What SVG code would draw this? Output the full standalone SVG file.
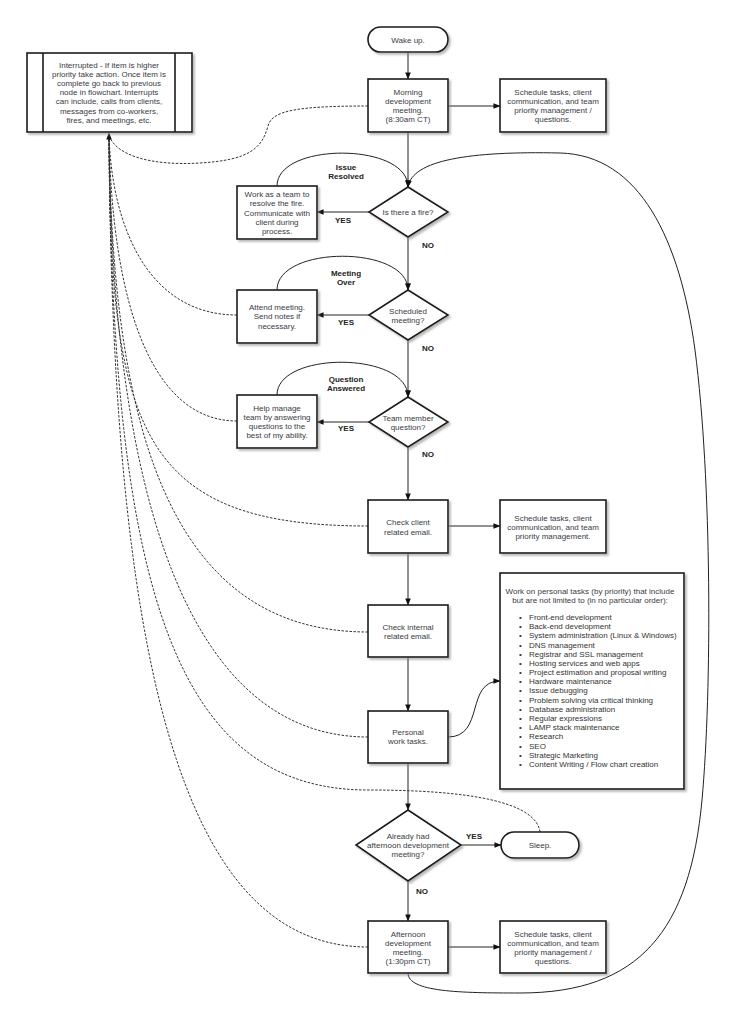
<svg xmlns="http://www.w3.org/2000/svg" width="741" height="1024" viewBox="0 0 741 1024">
<defs>
<filter id="sh" x="-10%" y="-10%" width="130%" height="130%">
<feDropShadow dx="2" dy="2" stdDeviation="1" flood-color="#888" flood-opacity="0.6"/>
</filter>
<marker id="ah" viewBox="0 0 8 8" refX="7.5" refY="4" markerWidth="7" markerHeight="7" markerUnits="userSpaceOnUse" orient="auto">
<path d="M0,0.8 L8,4 L0,7.2 Z" fill="#111"/>
</marker>
</defs>
<style>
.n{fill:#fff;stroke:#1a1a1a;stroke-width:1.6;filter:url(#sh)}
.t{font-family:"Liberation Sans",Arial,sans-serif;font-size:8px;fill:#3a3a44;text-anchor:middle}
.l{font-family:"Liberation Sans",Arial,sans-serif;font-size:8px;font-weight:bold;fill:#222;text-anchor:middle}
.li{font-family:"Liberation Sans",Arial,sans-serif;font-size:8px;fill:#333}
.c{fill:none;stroke:#222;stroke-width:1}
.a{marker-end:url(#ah)}
.d{fill:none;stroke:#333;stroke-width:1;stroke-dasharray:2.5 1.5}
</style>
<rect width="741" height="1024" fill="#fff"/>

<g id="connectors">
<!-- main vertical flow -->
<path class="c a" d="M408 52 L408 79"/>
<path class="c a" d="M408 132 L408 187"/>
<path class="c a" d="M408 237 L408 290"/>
<path class="c a" d="M408 340 L408 397"/>
<path class="c a" d="M408 447 L408 500"/>
<path class="c a" d="M408 553 L408 605"/>
<path class="c a" d="M408 657 L408 711"/>
<path class="c a" d="M408 763 L408 810"/>
<path class="c a" d="M408 881 L408 921"/>
<!-- horizontal -->
<path class="c a" d="M448 106 L500 106"/>
<path class="c a" d="M369 212 L317 212"/>
<path class="c a" d="M369 315 L317 315"/>
<path class="c a" d="M369 422 L317 422"/>
<path class="c a" d="M448 526 L500 526"/>
<path class="c a" d="M448 737 C485 737 465 681 500 681"/>
<path class="c a" d="M461 845 L501 845"/>
<path class="c a" d="M448 947 L500 947"/>
<!-- return loops -->
<path class="c a" d="M277 186 C277 142 408 142 408 187"/>
<path class="c a" d="M277 290 C277 245 408 245 408 290"/>
<path class="c a" d="M277 395 C277 351 408 351 408 397"/>
<path class="c a" d="M408 973 C408 992 460 993 520 993 C640 993 690 930 702 800 C712 690 712 480 695 350 C680 240 640 155 560 153 C470 151 412 160 408 187"/>
<!-- interrupt dashed links -->
<path class="d" d="M368 106 C290 106 272 112 268 126 C262 148 250 160 200 163 C150 166 115 155 109 135"/>
<path class="d" d="M237 315 C150 315 112 230 109 135"/>
<path class="d" d="M237 421 C150 421 112 300 109 135"/>
<path class="d" d="M368 526 C140 526 110 430 109 135"/>
<path class="d" d="M368 632 C180 632 112 450 109 135"/>
<path class="d" d="M368 737 C190 737 112 500 109 135"/>
<path class="d" d="M540 832 C536 802 470 790 368 790 C180 790 112 600 109 135"/>
<path class="d a" d="M368 947 C200 947 112 720 109 133"/>
<!-- labels -->
<text class="l" x="346" y="170">Issue</text>
<text class="l" x="346" y="179">Resolved</text>
<text class="l" x="343" y="223">YES</text>
<text class="l" x="428" y="248">NO</text>
<text class="l" x="346" y="276">Meeting</text>
<text class="l" x="346" y="285">Over</text>
<text class="l" x="346" y="325">YES</text>
<text class="l" x="428" y="351">NO</text>
<text class="l" x="346" y="382">Question</text>
<text class="l" x="346" y="391">Answered</text>
<text class="l" x="346" y="431">YES</text>
<text class="l" x="428" y="457">NO</text>
<text class="l" x="474" y="839">YES</text>
<text class="l" x="422" y="894">NO</text>
</g>

<g id="interrupt">
<rect class="n" x="27" y="53" width="165" height="79"/>
<line x1="43" y1="53" x2="43" y2="132" stroke="#1a1a1a" stroke-width="1.6"/>
<line x1="175" y1="53" x2="175" y2="132" stroke="#1a1a1a" stroke-width="1.6"/>
<text class="t" x="109" y="68">Interrupted - If item is higher</text>
<text class="t" x="109" y="77">priority take action. Once item is</text>
<text class="t" x="109" y="86">complete go back to previous</text>
<text class="t" x="109" y="95">node in flowchart. Interrupts</text>
<text class="t" x="109" y="104">can include, calls from clients,</text>
<text class="t" x="109" y="114">messages from co-workers,</text>
<text class="t" x="109" y="123">fires, and meetings, etc.</text>
</g>

<g id="wake">
<rect class="n" x="368" y="27" width="80" height="25" rx="12.5"/>
<text class="t" x="408" y="43">Wake up.</text>
</g>

<g id="morning">
<rect class="n" x="368" y="79" width="80" height="53"/>
<text class="t" x="408" y="95">Morning</text>
<text class="t" x="408" y="104">development</text>
<text class="t" x="408" y="113">meeting.</text>
<text class="t" x="408" y="122">(8:30am CT)</text>
</g>

<g id="schedule1">
<rect class="n" x="500" y="79" width="106" height="53"/>
<text class="t" x="553" y="95">Schedule tasks, client</text>
<text class="t" x="553" y="104">communication, and team</text>
<text class="t" x="553" y="113">priority management /</text>
<text class="t" x="553" y="122">questions.</text>
</g>

<g id="fire">
<polygon class="n" points="408,187 448,212 408,237 369,212"/>
<text class="t" x="408" y="215">Is there a fire?</text>
</g>

<g id="work-fire">
<rect class="n" x="237" y="186" width="80" height="53"/>
<text class="t" x="277" y="197">Work as a team to</text>
<text class="t" x="277" y="206">resolve the fire.</text>
<text class="t" x="277" y="216">Communicate with</text>
<text class="t" x="277" y="225">client during</text>
<text class="t" x="277" y="234">process.</text>
</g>

<g id="meeting">
<polygon class="n" points="408,290 448,315 408,340 369,315"/>
<text class="t" x="408" y="314">Scheduled</text>
<text class="t" x="408" y="323">meeting?</text>
</g>

<g id="attend">
<rect class="n" x="237" y="290" width="80" height="53"/>
<text class="t" x="277" y="310">Attend meeting.</text>
<text class="t" x="277" y="319">Send notes if</text>
<text class="t" x="277" y="329">necessary.</text>
</g>

<g id="team">
<polygon class="n" points="408,397 448,422 408,447 369,422"/>
<text class="t" x="408" y="421">Team member</text>
<text class="t" x="408" y="430">question?</text>
</g>

<g id="help">
<rect class="n" x="237" y="395" width="80" height="53"/>
<text class="t" x="277" y="411">Help manage</text>
<text class="t" x="277" y="420">team by answering</text>
<text class="t" x="277" y="429">questions to the</text>
<text class="t" x="277" y="438">best of my ability.</text>
</g>

<g id="client-email">
<rect class="n" x="368" y="500" width="80" height="53"/>
<text class="t" x="408" y="525">Check client</text>
<text class="t" x="408" y="535">related email.</text>
</g>

<g id="schedule2">
<rect class="n" x="500" y="500" width="106" height="53"/>
<text class="t" x="553" y="521">Schedule tasks, client</text>
<text class="t" x="553" y="530">communication, and team</text>
<text class="t" x="553" y="539">priority management.</text>
</g>

<g id="internal-email">
<rect class="n" x="368" y="605" width="80" height="52"/>
<text class="t" x="408" y="630">Check internal</text>
<text class="t" x="408" y="639">related email.</text>
</g>

<g id="personal">
<rect class="n" x="368" y="711" width="80" height="52"/>
<text class="t" x="408" y="735">Personal</text>
<text class="t" x="408" y="744">work tasks.</text>
</g>

<g id="tasks">
<rect class="n" x="500" y="573" width="184" height="216"/>
<text class="t" x="590" y="594">Work on personal tasks (by priority) that include</text>
<text class="t" x="590" y="603">but are not limited to (in no particular order):</text>
<g class="li">
<text x="519" y="620">•</text><text x="529" y="620">Front-end development</text>
<text x="519" y="629">•</text><text x="529" y="629">Back-end development</text>
<text x="519" y="638">•</text><text x="529" y="638">System administration (Linux &amp; Windows)</text>
<text x="519" y="648">•</text><text x="529" y="648">DNS management</text>
<text x="519" y="657">•</text><text x="529" y="657">Registrar and SSL management</text>
<text x="519" y="666">•</text><text x="529" y="666">Hosting services and web apps</text>
<text x="519" y="675">•</text><text x="529" y="675">Project estimation and proposal writing</text>
<text x="519" y="684">•</text><text x="529" y="684">Hardware maintenance</text>
<text x="519" y="693">•</text><text x="529" y="693">Issue debugging</text>
<text x="519" y="703">•</text><text x="529" y="703">Problem solving via critical thinking</text>
<text x="519" y="712">•</text><text x="529" y="712">Database administration</text>
<text x="519" y="721">•</text><text x="529" y="721">Regular expressions</text>
<text x="519" y="730">•</text><text x="529" y="730">LAMP stack maintenance</text>
<text x="519" y="739">•</text><text x="529" y="739">Research</text>
<text x="519" y="749">•</text><text x="529" y="749">SEO</text>
<text x="519" y="758">•</text><text x="529" y="758">Strategic Marketing</text>
<text x="519" y="767">•</text><text x="529" y="767">Content Writing / Flow chart creation</text>
</g>
</g>

<g id="already">
<polygon class="n" points="408,810 461,845 408,881 356,845"/>
<text class="t" x="408" y="839">Already had</text>
<text class="t" x="408" y="848">afternoon development</text>
<text class="t" x="408" y="857">meeting?</text>
</g>

<g id="sleep">
<rect class="n" x="501" y="832" width="78" height="26" rx="13"/>
<text class="t" x="540" y="848">Sleep.</text>
</g>

<g id="afternoon">
<rect class="n" x="368" y="921" width="80" height="52"/>
<text class="t" x="408" y="937">Afternoon</text>
<text class="t" x="408" y="946">development</text>
<text class="t" x="408" y="955">meeting.</text>
<text class="t" x="408" y="964">(1:30pm CT)</text>
</g>

<g id="schedule3">
<rect class="n" x="500" y="921" width="106" height="52"/>
<text class="t" x="553" y="937">Schedule tasks, client</text>
<text class="t" x="553" y="946">communication, and team</text>
<text class="t" x="553" y="955">priority management /</text>
<text class="t" x="553" y="964">questions.</text>
</g>
</svg>
